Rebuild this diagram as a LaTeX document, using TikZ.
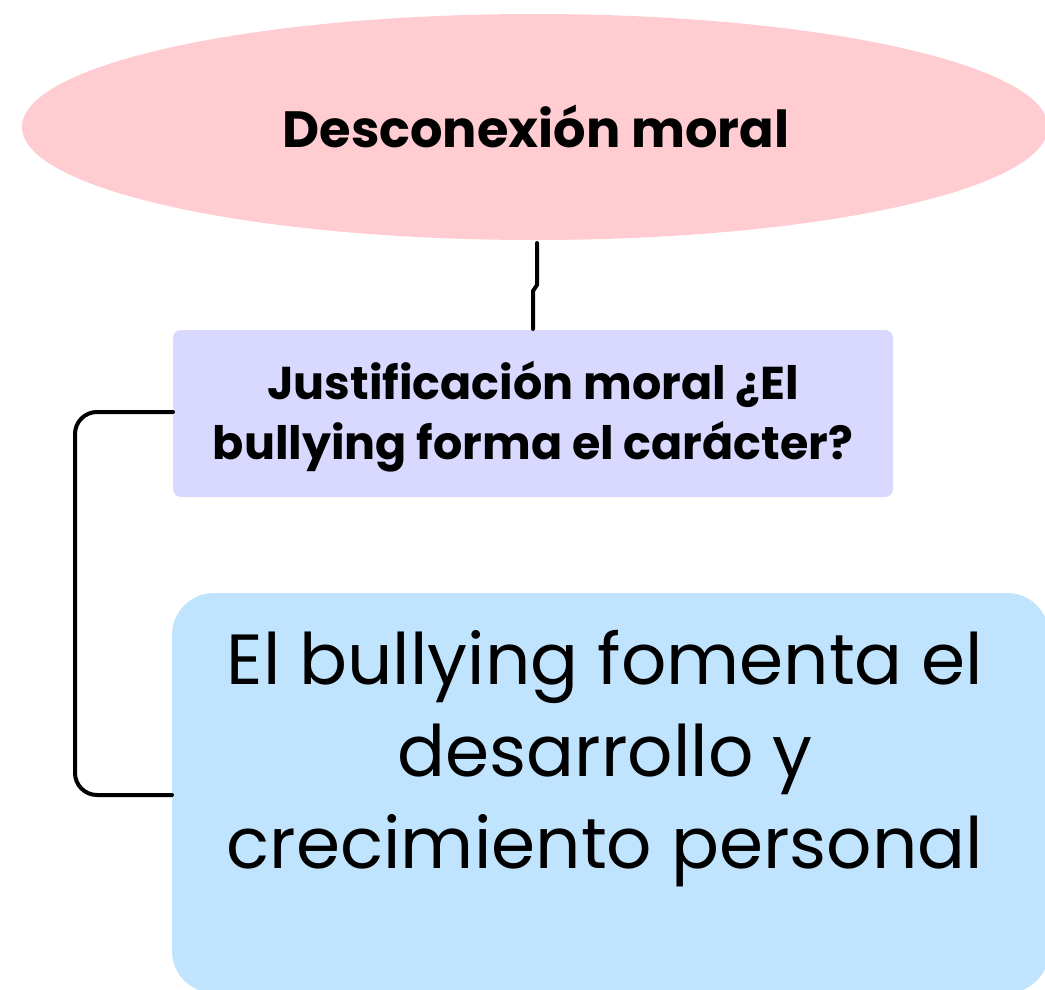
\documentclass[tikz,border=0pt]{standalone}
\usepackage{fontspec}
\setmainfont{Poppins}
\usetikzlibrary{shapes.geometric}
\definecolor{ellpink}{HTML}{FFCCD2}
\definecolor{lav}{HTML}{D9D9FF}
\definecolor{skyb}{HTML}{C0E4FD}
\tikzset{
  conn/.style={draw=black, line width=4pt, line cap=round, line join=round},
  txt/.style={align=center, inner sep=0pt, text=black}
}
\begin{document}
\begin{tikzpicture}[x=1pt,y=-1pt]
\useasboundingbox (0,0) rectangle (1045,990);
\begin{scope}
\clip (0,0) rectangle (1045,990);
\node[ellipse, fill=ellpink, minimum width=1026pt, minimum height=226pt, inner sep=0pt] (ell) at (535,127) {};
\fill[skyb, rounded corners=42pt] (172,593) rectangle (1049,993);
\end{scope}
\node[txt, font=\fontsize{51}{60}\selectfont\bfseries] (t1) at (536,126) {Desconexión moral};
\fill[lav, rounded corners=8pt] (173,330) rectangle (893,497);
\coordinate (midtop) at (533,329);
\coordinate (midleft) at (173,412);
\node[txt, font=\fontsize{46}{60}\selectfont\bfseries] (t2) at (533,417) {Justificación moral ¿El\\bullying forma el carácter?};
\coordinate (botleft) at (172,795);
\node[txt, font=\fontsize{71}{92}\selectfont] (t3) at (605,759) {El bullying fomenta el\\desarrollo y\\crecimiento personal};
\coordinate (ellbot) at (537,243);
\draw[conn] (ellbot) -- ++(0,42) -- ++(-4,6) |- (midtop);
\draw[conn, rounded corners=22pt] (midleft) -- (75,412) -- (75,795) -- (botleft);
\end{tikzpicture}
\end{document}
